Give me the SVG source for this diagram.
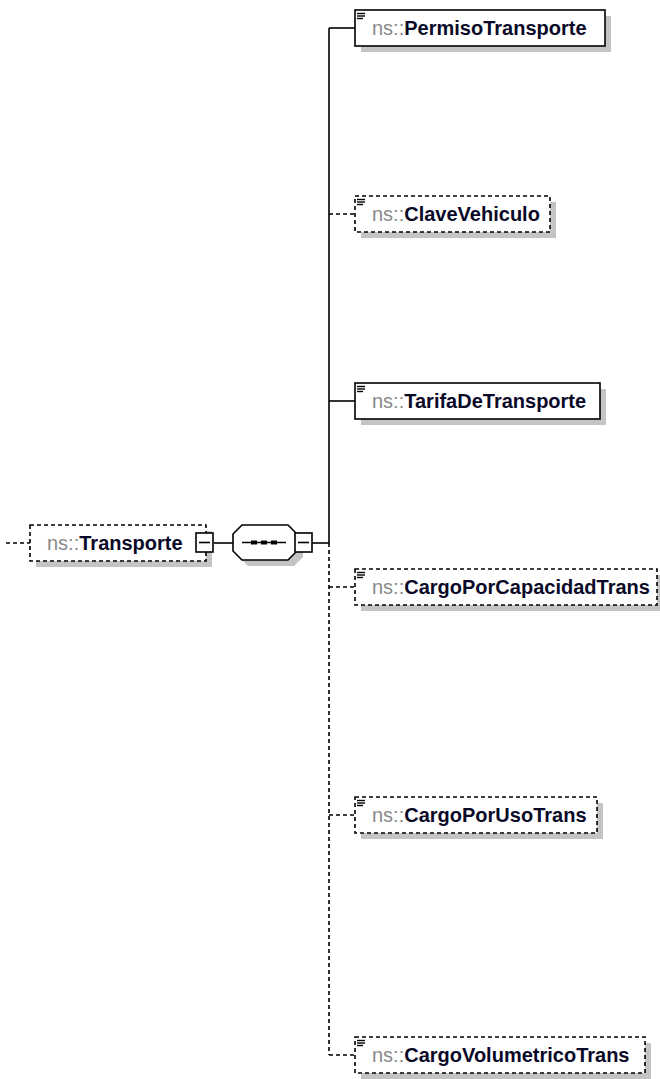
<svg xmlns="http://www.w3.org/2000/svg" width="660" height="1079" viewBox="0 0 660 1079">
<style>
.sh{fill:#c4c4c4;stroke:none}
.bx{fill:#fff;stroke:#000;stroke-width:1.6}
.dbx{fill:#fff;stroke:#000;stroke-width:1.6;stroke-dasharray:4 3}
.ln{stroke:#000;stroke-width:1.6;fill:none}
.dln{stroke:#000;stroke-width:1.6;fill:none;stroke-dasharray:4 3}
.ic{stroke:#000;stroke-width:1.4}
text{font-family:"Liberation Sans",Arial,sans-serif;font-size:20px}
.ns{fill:#8a8a8a}
.nm{fill:#0a0a28;font-weight:bold}
</style>
<rect width="660" height="1079" fill="#fff"/>
<g id="connectors">
<line class="dln" x1="6" y1="543" x2="30" y2="543"/>
<line class="ln" x1="214" y1="543" x2="233" y2="543"/>
<line class="ln" x1="312" y1="543" x2="329" y2="543"/>
<line class="ln" x1="329" y1="28" x2="329" y2="543"/>
<line class="dln" x1="329" y1="543" x2="329" y2="1055"/>
<line class="ln" x1="329" y1="28" x2="355" y2="28"/>
<line class="dln" x1="329" y1="214" x2="355" y2="214"/>
<line class="ln" x1="329" y1="401" x2="355" y2="401"/>
<line class="dln" x1="329" y1="587" x2="355" y2="587"/>
<line class="dln" x1="329" y1="815" x2="355" y2="815"/>
<line class="dln" x1="329" y1="1055" x2="355" y2="1055"/>
</g>
<g id="Transporte">
<rect class="sh" x="36" y="531" width="176" height="36"/>
<rect class="dbx" x="30" y="525" width="176" height="36"/>
<text x="47" y="550"><tspan class="ns">ns::</tspan><tspan class="nm">Transporte</tspan></text>
<rect class="bx" x="196" y="533" width="17" height="19"/>
<line class="ln" x1="199" y1="542.5" x2="210" y2="542.5"/>
</g>
<g id="sequence">
<polygon class="sh" points="248,531 294,531 303,540 303,557 294,566 248,566 239,557 239,540"/>
<polygon class="bx" points="242,525 288,525 297,534 297,551 288,560 242,560 233,551 233,534"/>
<line class="ln" x1="242" y1="542.5" x2="286" y2="542.5"/>
<rect x="251" y="540.5" width="6" height="4"/>
<rect x="261" y="540.5" width="6" height="4"/>
<rect x="271" y="540.5" width="6" height="4"/>
<rect class="bx" x="295" y="533" width="17" height="19"/>
<line class="ln" x1="298" y1="542.5" x2="309" y2="542.5"/>
</g>
<g id="PermisoTransporte">
<rect class="sh" x="361" y="16" width="250" height="36"/>
<rect class="bx" x="355" y="10" width="250" height="36"/>
<line class="ic" x1="357" y1="13.5" x2="365" y2="13.5"/><line class="ic" x1="357" y1="16" x2="365" y2="16"/><line class="ic" x1="357" y1="18.5" x2="363" y2="18.5"/>
<text x="372" y="35"><tspan class="ns">ns::</tspan><tspan class="nm">PermisoTransporte</tspan></text>
</g>
<g id="ClaveVehiculo">
<rect class="sh" x="361" y="202" width="195" height="36"/>
<rect class="dbx" x="355" y="196" width="195" height="36"/>
<line class="ic" x1="357" y1="199.5" x2="365" y2="199.5"/><line class="ic" x1="357" y1="202" x2="365" y2="202"/><line class="ic" x1="357" y1="204.5" x2="363" y2="204.5"/>
<text x="372" y="221"><tspan class="ns">ns::</tspan><tspan class="nm">ClaveVehiculo</tspan></text>
</g>
<g id="TarifaDeTransporte">
<rect class="sh" x="361" y="389" width="245" height="36"/>
<rect class="bx" x="355" y="383" width="245" height="36"/>
<line class="ic" x1="357" y1="386.5" x2="365" y2="386.5"/><line class="ic" x1="357" y1="389" x2="365" y2="389"/><line class="ic" x1="357" y1="391.5" x2="363" y2="391.5"/>
<text x="372" y="408"><tspan class="ns">ns::</tspan><tspan class="nm">TarifaDeTransporte</tspan></text>
</g>
<g id="CargoPorCapacidadTrans">
<rect class="sh" x="361" y="575" width="302" height="36"/>
<rect class="dbx" x="355" y="569" width="302" height="36"/>
<line class="ic" x1="357" y1="572.5" x2="365" y2="572.5"/><line class="ic" x1="357" y1="575" x2="365" y2="575"/><line class="ic" x1="357" y1="577.5" x2="363" y2="577.5"/>
<text x="372" y="594"><tspan class="ns">ns::</tspan><tspan class="nm">CargoPorCapacidadTrans</tspan></text>
</g>
<g id="CargoPorUsoTrans">
<rect class="sh" x="361" y="803" width="242" height="36"/>
<rect class="dbx" x="355" y="797" width="242" height="36"/>
<line class="ic" x1="357" y1="800.5" x2="365" y2="800.5"/><line class="ic" x1="357" y1="803" x2="365" y2="803"/><line class="ic" x1="357" y1="805.5" x2="363" y2="805.5"/>
<text x="372" y="822"><tspan class="ns">ns::</tspan><tspan class="nm">CargoPorUsoTrans</tspan></text>
</g>
<g id="CargoVolumetricoTrans">
<rect class="sh" x="361" y="1043" width="290" height="36"/>
<rect class="dbx" x="355" y="1037" width="290" height="36"/>
<line class="ic" x1="357" y1="1040.5" x2="365" y2="1040.5"/><line class="ic" x1="357" y1="1043" x2="365" y2="1043"/><line class="ic" x1="357" y1="1045.5" x2="363" y2="1045.5"/>
<text x="372" y="1062"><tspan class="ns">ns::</tspan><tspan class="nm">CargoVolumetricoTrans</tspan></text>
</g>
</svg>
